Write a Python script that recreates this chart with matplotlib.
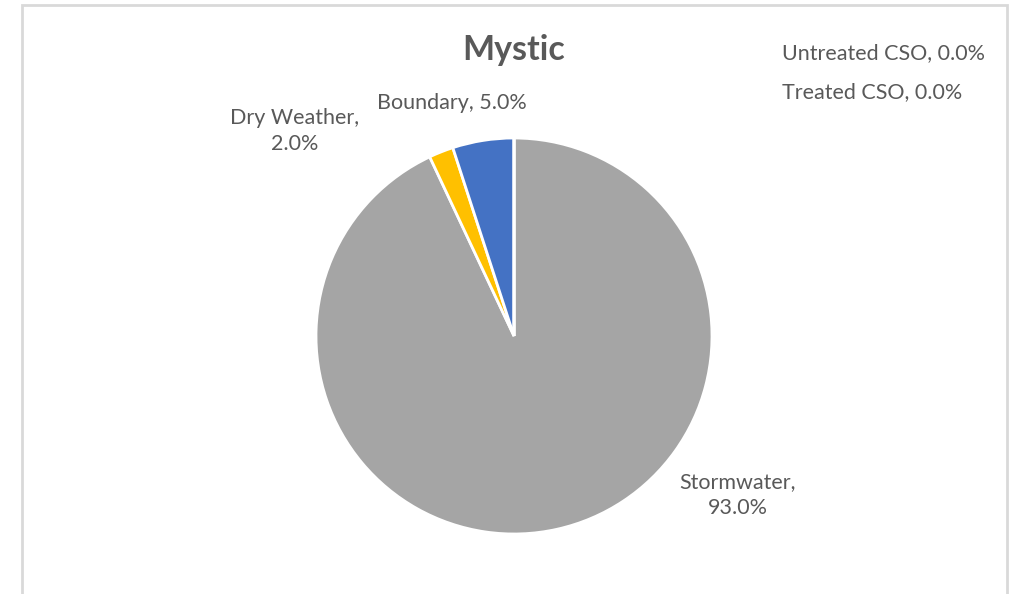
import matplotlib.pyplot as plt
from matplotlib.patches import Rectangle

plt.rcParams['font.family'] = ['Lato', 'DejaVu Sans']

# data
categories = ['Stormwater', 'Dry Weather', 'Boundary', 'Untreated CSO', 'Treated CSO']
shares = [93.0, 2.0, 5.0, 0.0, 0.0]
colors = ['#A5A5A5', '#FFC000', '#4472C4', '#ED7D31', '#5B9BD5']
title = 'Mystic'

W, H = 1015, 594
fig = plt.figure(figsize=(W / 100, H / 100), dpi=100)
ax = fig.add_axes([0, 0, 1, 1])
ax.set_xlim(0, W)
ax.set_ylim(0, H)
ax.set_aspect('equal')
ax.axis('off')

# chart frame
ax.add_patch(Rectangle((22, -10), 985, H - 5 + 10, fill=False,
                       edgecolor='#D9D9D9', linewidth=2))

ax.pie(shares, colors=colors, startangle=90, counterclock=False,
       center=(514, H - 336), radius=198,
       wedgeprops=dict(edgecolor='white', linewidth=2))
ax.set_xlim(0, W)
ax.set_ylim(0, H)

ax.text(514, H - 50, title, ha='center', va='center', fontsize=24.5,
        fontweight='bold', color='#595959')

txt = dict(fontsize=15.5, color='#595959', linespacing=1.35)
lab = [f'{c}, {v:.1f}%' for c, v in zip(categories, shares)]
ax.text(738, H - 495, lab[0].replace(', ', ',\n'), ha='center', va='center', **txt)
ax.text(295, H - 131, lab[1].replace(', ', ',\n'), ha='center', va='center', **txt)
ax.text(452, H - 103, lab[2], ha='center', va='center', **txt)
ax.text(782, H - 53, lab[3], ha='left', va='center', **txt)
ax.text(782, H - 92, lab[4], ha='left', va='center', **txt)

fig.savefig('out.png', dpi=100)
